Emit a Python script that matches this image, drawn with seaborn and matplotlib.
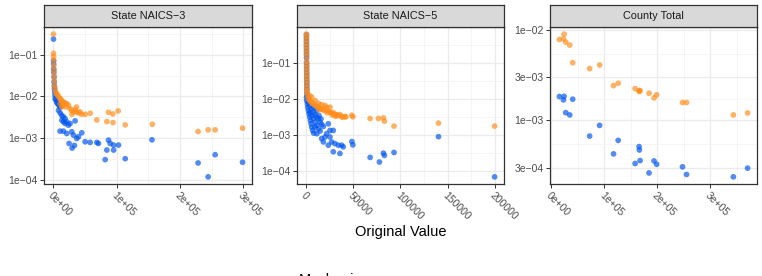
import numpy as np
import pandas as pd
import seaborn as sns
import matplotlib.pyplot as plt

# ---- data (x = original value, y = relative error) ----
panel_names = ["State NAICS\u22123", "State NAICS\u22125", "County Total"]
mechanisms = ["A", "B"]          # A = orange (higher error), B = blue
mech_colors = {"A": "#FF8C1A", "B": "#0055F0"}

# State NAICS-3
n3_a_x = [150, 250, 350, 500, 650, 1000, 1150, 1300, 1583, 2639, 3694, 5277, 6860, 8971, 10554,
          12137, 13193, 15831, 18470, 21108, 23747, 10800, 15500, 13400, 19525, 26385, 29024, 31662,
          34301, 36939, 39578, 29300, 36600, 42216, 44855, 50132, 58047, 68601, 87071, 93931, 102374,
          84432, 94200, 113456, 156199, 228494, 244325, 255407, 298678]
n3_a_y = [0.310, 0.1076, 0.0896, 0.0719, 0.0547, 0.0416, 0.0316, 0.0240, 0.0183, 0.0152, 0.0127,
          0.0116, 0.0106, 0.00964, 0.00879, 0.00833, 0.00774, 0.00733, 0.00694, 0.00669, 0.00610,
          0.00669, 0.00610, 0.00557, 0.00557, 0.00508, 0.00464, 0.00424, 0.00482, 0.00424, 0.00401,
          0.00373, 0.00557, 0.00424, 0.00373, 0.00373, 0.00394, 0.00273, 0.00416, 0.00379, 0.00448,
          0.00249, 0.00236, 0.00208, 0.00215, 0.00144, 0.00158, 0.00158, 0.00173]
n3_b_x = [200, 300, 400, 528, 700, 1055, 1200, 1583, 1700, 2111, 2639, 2700, 4222, 5277, 6332, 7916,
          9499, 10554, 8100, 10700, 13193, 15831, 18470, 13400, 16000, 18700, 21108, 23747, 26385,
          34301, 10554, 15831, 29024, 21108, 31662, 39578, 44855, 36939, 24802, 29551, 33245, 50132,
          58047, 68601, 71239, 87071, 89709, 94986, 102902, 84432, 95200, 81794, 113456, 155672,
          228494, 244325, 255407, 298678]
n3_b_y = [0.236, 0.0719, 0.0600, 0.0456, 0.0380, 0.0289, 0.0219, 0.0176, 0.0152, 0.0127, 0.0106,
          0.00879, 0.00818, 0.00733, 0.00681, 0.00645, 0.00589, 0.00557, 0.00464, 0.00401, 0.00353,
          0.00322, 0.00294, 0.00268, 0.00245, 0.00224, 0.00245, 0.00204, 0.00224, 0.00259, 0.00147,
          0.00147, 0.00142, 0.00129, 0.00118, 0.00108, 0.00134, 0.000982, 0.000746, 0.000578,
          0.000668, 0.000818, 0.000789, 0.000789, 0.000746, 0.000895, 0.000746, 0.000681, 0.000681,
          0.000518, 0.000518, 0.000305, 0.000322, 0.000912, 0.000254, 0.000118, 0.000401, 0.000264]

# State NAICS-5
n5_a_x = [20, 40, 60, 80, 100, 120, 150, 180, 210, 240, 270, 300, 330, 360, 400, 440, 480, 520,
          705, 1411, 2116, 3174, 4232, 5643, 7407, 9170, 10934, 12697, 14461, 16224, 17988, 19751,
          21515, 23278, 25042, 26805, 28569, 30332, 32096, 33859, 35623, 37386, 40913,
          3880, 9300, 12900, 19900, 25200, 16400, 5800, 14000, 22000, 27500, 31000, 38500, 42000,
          48320, 49378, 67718, 76536, 81826, 82885, 93113, 140375, 199981]
n5_a_y = [0.641, 0.553, 0.448, 0.363, 0.294, 0.238, 0.192, 0.156, 0.114, 0.0919, 0.0744, 0.0603,
          0.0488, 0.0394, 0.0320, 0.0259, 0.0209, 0.0170,
          0.0153, 0.01236, 0.01066, 0.00938, 0.00862, 0.00793, 0.00728, 0.00669, 0.00629, 0.00590,
          0.00565, 0.00531, 0.00498, 0.00478, 0.00590, 0.00458, 0.00430, 0.00403, 0.00421, 0.00371,
          0.00371, 0.00348, 0.00371, 0.00327, 0.00327,
          0.01236, 0.00899, 0.00760, 0.00656, 0.00590, 0.00698, 0.01112, 0.00500, 0.00420, 0.00360,
          0.00330, 0.00310, 0.00320,
          0.00355, 0.00320, 0.00288, 0.00288, 0.00300, 0.00243, 0.00177, 0.00214, 0.00177]
n5_b_x = [30, 50, 70, 90, 110, 130, 160, 190, 220, 250, 280, 310, 340, 370, 410, 450, 490, 530, 570,
          100, 353, 1058, 1411, 2116, 2822, 3527, 4232, 4938, 5643, 6701, 7759, 2200, 3880, 5700,
          7407, 9170, 10934, 12697, 14461, 16224, 17988, 3950, 5800, 7500, 9300, 11000, 12800, 14600,
          11100, 7600, 10900, 13402, 15519, 9200,
          23278, 25042, 28569, 19751, 17988, 26805, 30332, 33859, 37386, 39150, 28569, 35623, 21515,
          25042, 16224, 23278,
          48320, 49378, 67718, 77594, 81826, 82885, 93113, 140375, 199981]
n5_b_y = [0.615, 0.498, 0.403, 0.327, 0.264, 0.214, 0.173, 0.140, 0.102, 0.0827, 0.0670, 0.0542,
          0.0439, 0.0355, 0.0288, 0.0233, 0.0188, 0.0152, 0.0124,
          0.01112, 0.00899, 0.00728, 0.00590, 0.00478, 0.00387, 0.00313, 0.00253, 0.00205, 0.00166,
          0.00134, 0.00113, 0.00809, 0.00656, 0.00531, 0.00430, 0.00371, 0.00313, 0.00282, 0.00228,
          0.00197, 0.00173, 0.00430, 0.00348, 0.00282, 0.00228, 0.00185, 0.00149, 0.00129, 0.00109,
          0.00590, 0.00478, 0.00348, 0.00282, 0.00166,
          0.00205, 0.00134, 0.00134, 0.000881, 0.000641, 0.000641, 0.000577, 0.000520, 0.000520,
          0.000468, 0.000341, 0.000306, 0.00109, 0.000881, 0.000793, 0.000520,
          0.000656, 0.000531, 0.000238, 0.000177, 0.000313, 0.000270, 0.000327, 0.000899, 0.0000684]

# County Total
ct_x = [15000, 22600, 23800, 27000, 34500, 40100, 72100, 90900, 117200, 126000, 158000, 165500,
        166100, 167400, 184300, 193700, 198700, 247600, 255200, 343600, 370500]
ct_a_y = [0.00789, 0.00802, 0.00904, 0.00738, 0.00684, 0.00436, 0.00375, 0.00411, 0.00243, 0.00258,
          0.00225, 0.00214, 0.00209, 0.00214, 0.00200, 0.00178, 0.00192, 0.00158, 0.00158, 0.00115,
          0.00121]
ct_b_y = [0.00184, 0.00169, 0.00185, 0.00122, 0.00115, 0.00172, 0.000671, 0.000881, 0.000426,
          0.000601, 0.000333, 0.000513, 0.000471, 0.000359, 0.000262, 0.000356, 0.000327, 0.000306,
          0.000252, 0.000237, 0.000296]

# axis breaks / labels per panel
x_ticks = [[0, 1e5, 2e5, 3e5], [0, 50000, 100000, 150000, 200000], [0, 1e5, 2e5, 3e5]]
x_labels = [["0e+00", "1e+05", "2e+05", "3e+05"],
            ["0", "50000", "100000", "150000", "200000"],
            ["0e+00", "1e+05", "2e+05", "3e+05"]]
y_ticks = [[1e-1, 1e-2, 1e-3, 1e-4], [1e-1, 1e-2, 1e-3, 1e-4], [1e-2, 3e-3, 1e-3, 3e-4]]
y_labels = [["1e\u221201", "1e\u221202", "1e\u221203", "1e\u221204"],
            ["1e\u221201", "1e\u221202", "1e\u221203", "1e\u221204"],
            ["1e\u221202", "3e\u221203", "1e\u221203", "3e\u221204"]]


def long(panel, xs, ys, mech):
    return pd.DataFrame({"panel": panel, "value": xs, "error": ys, "mechanism": mech})


df = pd.concat([
    long(panel_names[0], n3_b_x, n3_b_y, "B"), long(panel_names[0], n3_a_x, n3_a_y, "A"),
    long(panel_names[1], n5_b_x, n5_b_y, "B"), long(panel_names[1], n5_a_x, n5_a_y, "A"),
    long(panel_names[2], ct_x, ct_b_y, "B"), long(panel_names[2], ct_x, ct_a_y, "A"),
], ignore_index=True)

sns.set_theme(style="white")
plt.rcParams['font.family'] = ['Liberation Sans', 'DejaVu Sans']

W, H = 762, 276
fig = plt.figure(figsize=(W / 100, H / 100), dpi=100)
lefts = [44, 297, 550]
widths = [208, 207, 207]
top, bottom, strip_top = 27, 184, 5


def minor_between(vals):
    v = np.sort(np.asarray(vals, dtype=float))
    step = v[1] - v[0]
    ext = np.concatenate([[v[0] - step], v, [v[-1] + step]])
    return (ext[:-1] + ext[1:]) / 2


for i, name in enumerate(panel_names):
    sub = df[df["panel"] == name]
    ax = fig.add_axes([lefts[i] / W, (H - bottom) / H, widths[i] / W, (bottom - top) / H])
    sns.scatterplot(data=sub, x="value", y="error", hue="mechanism", palette=mech_colors,
                    alpha=0.68, s=17, edgecolor="none", linewidth=0, legend=False, ax=ax)
    ax.set_yscale("log")

    # ggplot-style 5% expansion
    xmin, xmax = sub["value"].min(), sub["value"].max()
    dx = (xmax - xmin) * 0.05
    ly = np.log10(sub["error"])
    dy = (ly.max() - ly.min()) * 0.05

    ax.set_xticks(x_ticks[i], x_labels[i])
    ax.set_xticks(minor_between(x_ticks[i]), minor=True)
    ax.set_yticks(y_ticks[i], y_labels[i])
    ax.set_yticks(10 ** minor_between(np.log10(y_ticks[i])), minor=True)
    ax.yaxis.set_minor_formatter(plt.NullFormatter())
    ax.xaxis.set_minor_formatter(plt.NullFormatter())
    ax.set_xlim(xmin - dx, xmax + dx)
    ax.set_ylim(10 ** (ly.min() - dy), 10 ** (ly.max() + dy))

    ax.set_xlabel("")
    ax.set_ylabel("")
    ax.set_axisbelow(True)
    ax.grid(which="major", color="#EBEBEB", lw=0.9)
    ax.grid(which="minor", color="#F2F2F2", lw=0.5)
    for sp in ax.spines.values():
        sp.set_color("#333333")
        sp.set_linewidth(0.9)
    ax.tick_params(which="major", length=2.6, width=0.7, color="#333333",
                   labelsize=7.5, labelcolor="#4D4D4D", pad=2)
    ax.tick_params(which="minor", length=0)
    ax.tick_params(axis="x", bottom=True, pad=2)
    ax.tick_params(axis="y", left=True)
    for lab in ax.get_xticklabels():
        lab.set_rotation(-45)
        lab.set_ha("left")
        lab.set_va("top")
        lab.set_rotation_mode("anchor")

    # facet strip
    sax = fig.add_axes([lefts[i] / W, (H - top) / H, widths[i] / W, (top - strip_top) / H])
    sax.set_facecolor("#D9D9D9")
    sax.set_xticks([])
    sax.set_yticks([])
    for sp in sax.spines.values():
        sp.set_color("#333333")
        sp.set_linewidth(0.9)
    sax.text(0.5, 0.5, name, ha="center", va="center", fontsize=7.8, color="#1A1A1A",
             transform=sax.transAxes)

fig.text(401 / W, 1 - 232 / H, "Original Value", ha="center", va="center", fontsize=10.5,
         color="black")
# legend title sits at the very bottom edge and is clipped there, as in the reference
fig.text(299 / W, 1 - 273.5 / H, "Mechanism", ha="left", va="top", fontsize=10.5, color="black")

fig.savefig("out.png", dpi=100)
